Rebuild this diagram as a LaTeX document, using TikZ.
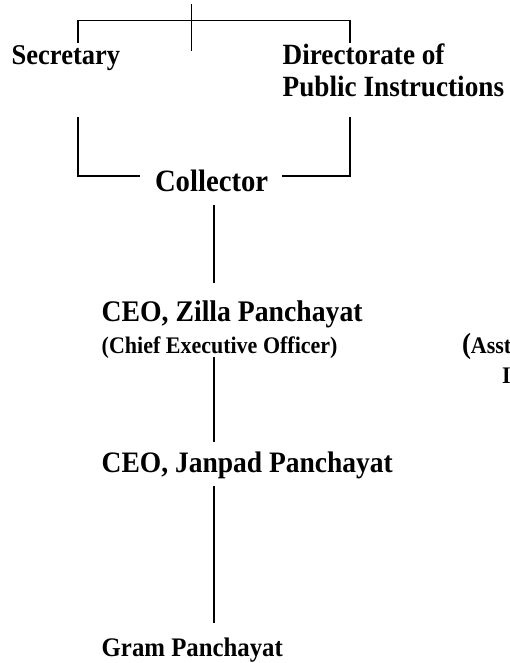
\documentclass[tikz,border=0pt]{standalone}
\usepackage{fontspec}
\setmainfont{Liberation Serif}
\newcommand\vstr[1]{\scalebox{1}[1.08]{#1}}
\begin{document}
\begin{tikzpicture}[x=1pt,y=-1pt,
  conn/.style={line width=1.4pt, line cap=butt},
  lbl/.style={inner sep=0pt, outer sep=0pt, anchor=base west, font=\bfseries}]
\useasboundingbox (0,0) rectangle (509,663);
\clip (0,0) rectangle (509,663);
% text nodes
\node[lbl, font=\bfseries\fontsize{26.5}{31.7}\selectfont] (sec) at (11.7,65) {\vstr{Secretary}};
\node[lbl, font=\bfseries\fontsize{27.2}{31.7}\selectfont] (dir1) at (282.7,65) {\vstr{Directorate of}};
\node[lbl, font=\bfseries\fontsize{27.2}{31.7}\selectfont] (dir2) at (282.7,96.7) {\vstr{Public Instructions}};
\node[lbl, font=\bfseries\fontsize{28.7}{32}\selectfont] (col) at (155,191) {\vstr{Collector}};
\node[lbl, font=\bfseries\fontsize{27.7}{32}\selectfont] (zp) at (101.7,321) {\vstr{CEO, Zilla Panchayat}};
\node[lbl, font=\bfseries\fontsize{22}{26}\selectfont] (zpsub) at (101.7,353) {\vstr{(Chief Executive Officer)}};
\node[lbl, font=\bfseries\fontsize{22}{26}\selectfont] (asst) at (462,353) {\vstr{{\fontsize{27}{30}\selectfont(}Asst}};
\node[lbl, font=\bfseries\fontsize{22}{26}\selectfont] (asst2) at (502,383) {\vstr{I}};
\node[lbl, font=\bfseries\fontsize{27.5}{32}\selectfont] (jp) at (101.7,472) {\vstr{CEO, Janpad Panchayat}};
\node[lbl, font=\bfseries\fontsize{24.8}{30}\selectfont] (gp) at (101.7,656) {\vstr{Gram Panchayat}};
% connector end points
\coordinate (top) at (191.7,4);
\coordinate (topmid) at (191.7,50.7);
\coordinate (hl) at (78,20.5);
\coordinate (hr) at (350,20.5);
\coordinate (secup) at (78,43);
\coordinate (dirup) at (350,43);
\coordinate (secdown) at (78,117);
\coordinate (dirdown) at (350,117);
\coordinate (colL) at (140,176);
\coordinate (colR) at (282,176);
\coordinate (cornL) at (78,176);
\coordinate (cornR) at (350,176);
\coordinate (colbot) at (214,205);
\coordinate (zptop) at (214,283);
\coordinate (zpbot) at (214,357);
\coordinate (jptop) at (214,442);
\coordinate (jpbot) at (214,486);
\coordinate (gptop) at (214,623);
% connectors
\draw[conn] (top) -- (topmid);
\draw[conn] (secup) -- (hl) -- (hr) -- (dirup);
\draw[conn] (secdown) -- (cornL) -- (colL);
\draw[conn] (dirdown) -- (cornR) -- (colR);
\draw[conn] (colbot) -- (zptop);
\draw[conn] (zpbot) -- (jptop);
\draw[conn] (jpbot) -- (gptop);
\end{tikzpicture}
\end{document}
